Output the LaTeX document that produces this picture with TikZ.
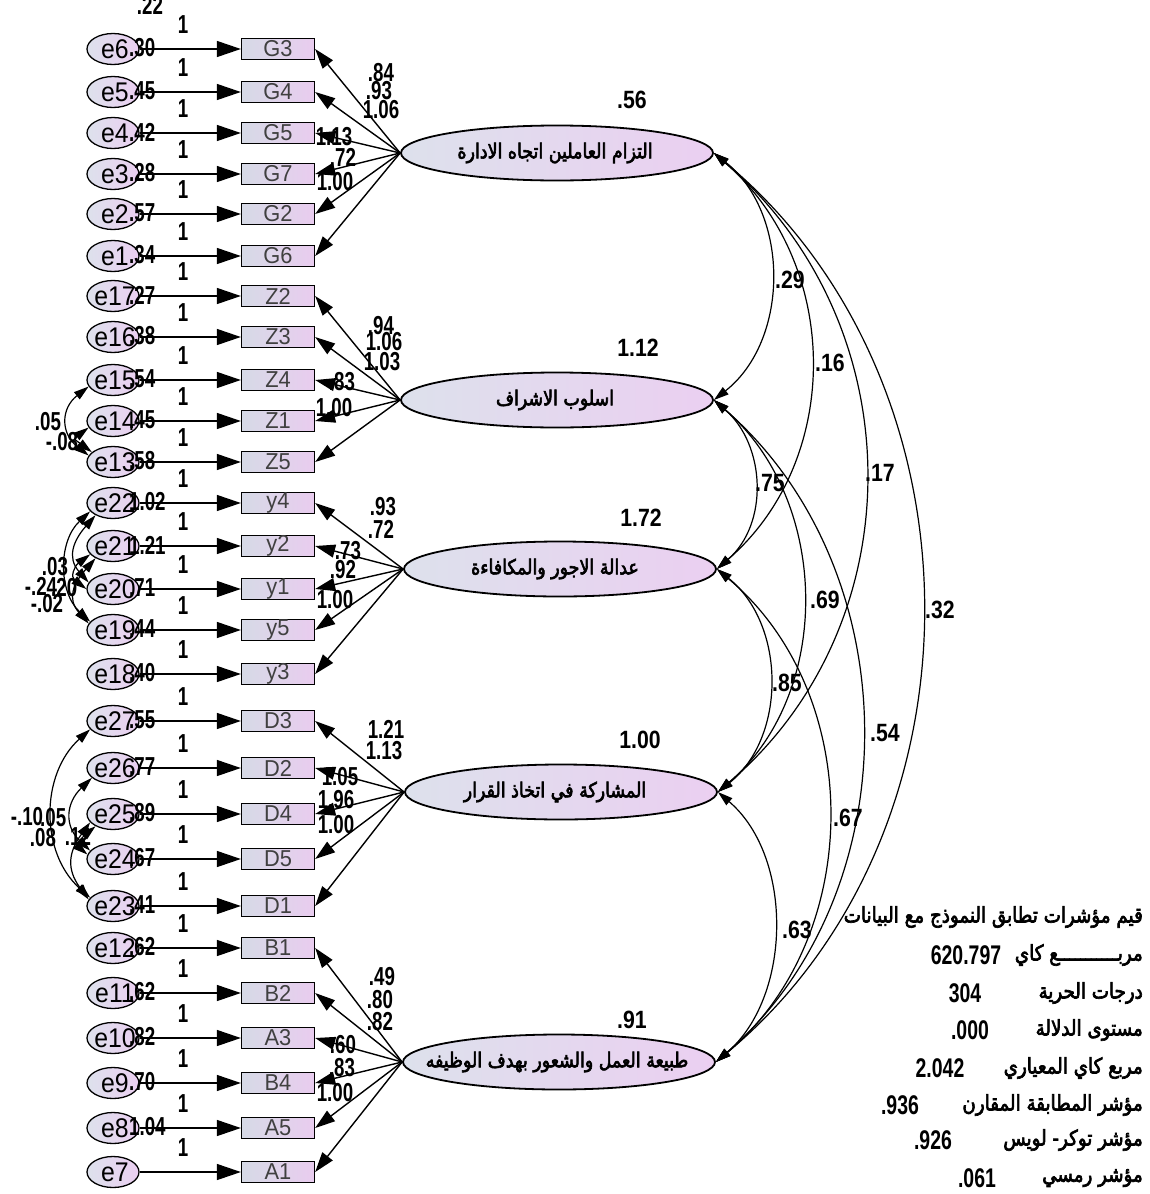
\documentclass[tikz,border=0pt]{standalone}
\usepackage{fontspec}
\setmainfont{Liberation Sans}
\newfontfamily\narA{Liberation Sans}[FakeStretch=0.72]
\newfontfamily\narB{Liberation Sans}[FakeStretch=0.85]
\newfontfamily\narC{Liberation Sans}[FakeStretch=0.95]
\newfontfamily\narE{Liberation Sans}[FakeStretch=0.92]
\newfontfamily\arab{DejaVu Sans}[Script=Arabic,FakeBold=3,FakeStretch=0.85]
\TeXXeTstate=1
\usetikzlibrary{shapes.geometric,arrows.meta,calc}
\definecolor{boxL}{HTML}{D6DAE6}
\definecolor{boxR}{HTML}{E9CCEF}
\definecolor{latL}{HTML}{DDE1EC}
\definecolor{latR}{HTML}{EBCFF1}
\tikzset{
  obs/.style={draw, line width=1.3pt, minimum width=73pt, minimum height=21pt, inner sep=0pt,
    left color=boxL, right color=boxR, text=black!75, font=\narC\fontsize{23}{23}\selectfont},
  err/.style={ellipse, draw, line width=1.3pt, minimum width=52pt, minimum height=31pt, inner sep=0pt,
    left color=latL, right color=latR},
  etxt/.style={inner sep=0pt, font=\narE\fontsize{27}{27}\selectfont},
  lat/.style={ellipse, draw, line width=1.8pt, minimum width=312pt, minimum height=55pt, inner sep=0pt,
    left color=latL, right color=latR},
  lattxt/.style={inner sep=0pt, font=\arab\fontsize{20.5}{20.5}\selectfont},
  ld/.style={line width=1.4pt, -{Triangle[length=20pt,width=13pt]}},
  ea/.style={line width=1.4pt, -{Triangle[length=24pt,width=16pt]}},
  cov/.style={line width=1.2pt, {Triangle[length=15pt,width=9pt]}-{Triangle[length=15pt,width=9pt]}},
  num/.style={inner sep=0pt, font=\narA\bfseries\fontsize{26}{26}\selectfont},
  bnum/.style={inner sep=0pt, font=\narB\bfseries\fontsize{25}{25}\selectfont},
  fnum/.style={inner sep=0pt, font=\narA\bfseries\fontsize{27}{27}\selectfont},
  ar/.style={inner sep=0pt, anchor=east, font=\arab\fontsize{21.5}{21.5}\selectfont},
}
\begin{document}
\begin{tikzpicture}[x=1pt,y=-1pt]
\useasboundingbox[fill=white] (0,0) rectangle (1149,1194);

% latent variables
\node[lat] (L1) at (557,153) {};
\node[lat] (L2) at (557,400) {};
\node[lat] (L3) at (560,569) {};
\node[lat] (L4) at (561,792) {};
\node[lat] (L5) at (559,1062) {};
\node[lattxt] (t1) at (555,153) {\beginR التزام العاملين اتجاه الادارة\endR};
\node[lattxt] (t2) at (555,400) {\beginR اسلوب الاشراف\endR};
\node[lattxt] (t3) at (555,569) {\beginR عدالة الاجور والمكافاءة\endR};
\node[lattxt] (t4) at (555,792) {\beginR المشاركة في اتخاذ القرار\endR};
\node[lattxt] (t5) at (557,1062) {\beginR طبيعة العمل والشعور بهدف الوظيفه\endR};

\node[bnum] (v1) at (632,100) {.56};
\node[bnum] (v2) at (638,348) {1.12};
\node[bnum] (v3) at (641,518) {1.72};
\node[bnum] (v4) at (640,740) {1.00};
\node[bnum] (v5) at (632,1020) {.91};

% indicators and errors
\foreach \b/\e/\v/\y/\L in {
 G3/e6/.30/49/L1, G4/e5/.45/92/L1, G5/e4/.42/133/L1, G7/e3/.28/174/L1, G2/e2/.57/214/L1, G6/e1/.34/256/L1,
 Z2/e17/.27/296/L2, Z3/e16/.38/337/L2, Z4/e15/.54/380/L2, Z1/e14/.45/421/L2, Z5/e13/.58/462/L2,
 y4/e22/1.02/503/L3, y2/e21/1.21/546/L3, y1/e20/.71/589/L3, y5/e19/.44/630/L3, y3/e18/.40/674/L3,
 D3/e27/.55/721/L4, D2/e26/.77/768/L4, D4/e25/.89/814/L4, D5/e24/.67/859/L4, D1/e23/.41/906/L4,
 B1/e12/.62/948/L5, B2/e11/.62/993/L5, A3/e10/.82/1038/L5, B4/e9/.70/1083/L5, A5/e8/1.04/1128/L5, A1/e7//1172/L5}{
  \node[obs] (\b) at (278,\y) {\b};
  \node[err] (\e) at (113,\y) {};
  \node[etxt] (n\e) at (115,\y) {\e};
  \draw[ea] (\e) -- (\b);
  \draw[ld] (\L.west) -- (\b.east);
  \node[num, anchor=west] (var\e) at (129,\y-1) {\v};
  \node[num] (one\e) at (183,\y-24) {1};
}
\node[num] (top) at (150,5) {.22};

% loadings
\foreach \t/\x/\y [count=\i] in {
 .84/381/73, .93/379/91, 1.06/381/110, 1.13/334/137, .72/343/157, 1.00/335/182,
 .94/381/326, 1.06/384/342, 1.03/382/362, .83/342/382, 1.00/334/408,
 .93/383/507, .72/381/529, .73/348/551, .92/343/570, 1.00/335/600,
 1.21/386/729, 1.13/384/751, 1.05/340/777, 1.96/336/800, 1.00/336/825,
 .49/382/977, .80/380/1000, .82/380/1022, .60/343/1045, .83/342/1068, 1.00/335/1093}{
  \node[num] (ld\i) at (\x,\y) {\t};
}

% error covariances
\draw[cov] (e15.195) .. controls ($(e15.195)+(-28,22)$) and ($(e13.165)+(-28,-22)$) .. (e13.165);
\draw[cov] (e14.195) .. controls ($(e14.195)+(-16,12)$) and ($(e13.155)+(-16,-12)$) .. (e13.155);
\node[num] (c1) at (48,422) {.05};
\node[num] (c2) at (62,442) {-.08};

\draw[cov] (e22.200) .. controls ($(e22.200)+(-32,30)$) and ($(e19.160)+(-32,-30)$) .. (e19.160);
\draw[cov] (e22.215) .. controls ($(e22.215)+(-22,25)$) and ($(e20.165)+(-22,-25)$) .. (e20.165);
\draw[cov] (e21.200) .. controls ($(e21.200)+(-16,12)$) and ($(e20.180)+(-16,-12)$) .. (e20.180);
\draw[cov] (e21.215) .. controls ($(e21.215)+(-22,25)$) and ($(e19.165)+(-22,-25)$) .. (e19.165);
\node[num] (c3) at (55,567) {.03};
\node[num] (c4) at (41,586) {-.24};
\node[num, anchor=west] (c5) at (51,588) {.20};
\node[num] (c6) at (47,604) {-.02};

\draw[cov] (e27.200) .. controls ($(e27.200)+(-50,45)$) and ($(e23.160)+(-50,-45)$) .. (e23.160);
\draw[cov] (e26.205) .. controls ($(e26.205)+(-26,25)$) and ($(e24.160)+(-26,-25)$) .. (e24.160);
\draw[cov] (e25.200) .. controls ($(e25.200)+(-22,30)$) and ($(e23.165)+(-22,-30)$) .. (e23.165);
\draw[cov] (e25.215) .. controls ($(e25.215)+(-12,10)$) and ($(e24.170)+(-12,-10)$) .. (e24.170);
\node[num] (c7) at (27,817) {-.10};
\node[num, anchor=west] (c8) at (40,818) {.05};
\node[num] (c9) at (43,838) {.08};
\node[num] (c10) at (78,836) {.12};

% latent correlations
\draw[cov] (L1.east) .. controls ($(L1.east)+(76,60)$) and ($(L2.east)+(76,-60)$) .. (L2.east);
\draw[cov] (L1.east) .. controls ($(L1.east)+(127,110)$) and ($(L3.east)+(127,-110)$) .. (L3.east);
\draw[cov] (L1.east) .. controls ($(L1.east)+(199,170)$) and ($(L4.east)+(199,-170)$) .. (L4.east);
\draw[cov] (L1.east) .. controls ($(L1.east)+(276,230)$) and ($(L5.east)+(276,-230)$) .. (L5.east);
\draw[cov] (L2.east) .. controls ($(L2.east)+(52,45)$) and ($(L3.east)+(52,-45)$) .. (L3.east);
\draw[cov] (L2.east) .. controls ($(L2.east)+(116,100)$) and ($(L4.east)+(116,-100)$) .. (L4.east);
\draw[cov] (L2.east) .. controls ($(L2.east)+(196,170)$) and ($(L5.east)+(196,-170)$) .. (L5.east);
\draw[cov] (L3.east) .. controls ($(L3.east)+(69,55)$) and ($(L4.east)+(69,-55)$) .. (L4.east);
\draw[cov] (L3.east) .. controls ($(L3.east)+(149,125)$) and ($(L5.east)+(149,-125)$) .. (L5.east);
\draw[cov] (L4.east) .. controls ($(L4.east)+(76,65)$) and ($(L5.east)+(76,-65)$) .. (L5.east);
\foreach \t/\x/\y [count=\i] in {.29/790/280, .16/830/363, .17/880/473, .32/940/610, .75/770/483,
  .69/825/600, .54/885/733, .85/787/683, .67/848/818, .63/797/930}{
  \node[bnum] (r\i) at (\x,\y) {\t};
}

% fit indices
\node[ar] (f1) at (1143,917) {\beginR قيم مؤشرات تطابق النموذج مع البيانات\endR};
\node[ar] (f2) at (1143,955) {\beginR مربـــــــــــع كاي\endR};
\node[ar] (f3) at (1143,993) {\beginR درجات الحرية\endR};
\node[ar] (f4) at (1143,1030) {\beginR مستوى الدلالة\endR};
\node[ar] (f5) at (1143,1068) {\beginR مربع كاي المعياري\endR};
\node[ar] (f6) at (1143,1105) {\beginR مؤشر المطابقة المقارن\endR};
\node[ar] (f7) at (1143,1140) {\beginR مؤشر توكر- لويس\endR};
\node[ar] (f8) at (1143,1178) {\beginR مؤشر رمسي\endR};
\node[fnum] (n2) at (966,955) {620.797};
\node[fnum] (n3) at (965,993) {304};
\node[fnum] (n4) at (970,1030) {.000};
\node[fnum] (n5) at (940,1068) {2.042};
\node[fnum] (n6) at (900,1105) {.936};
\node[fnum] (n7) at (933,1140) {.926};
\node[fnum] (n8) at (977,1178) {.061};
\end{tikzpicture}
\end{document}
